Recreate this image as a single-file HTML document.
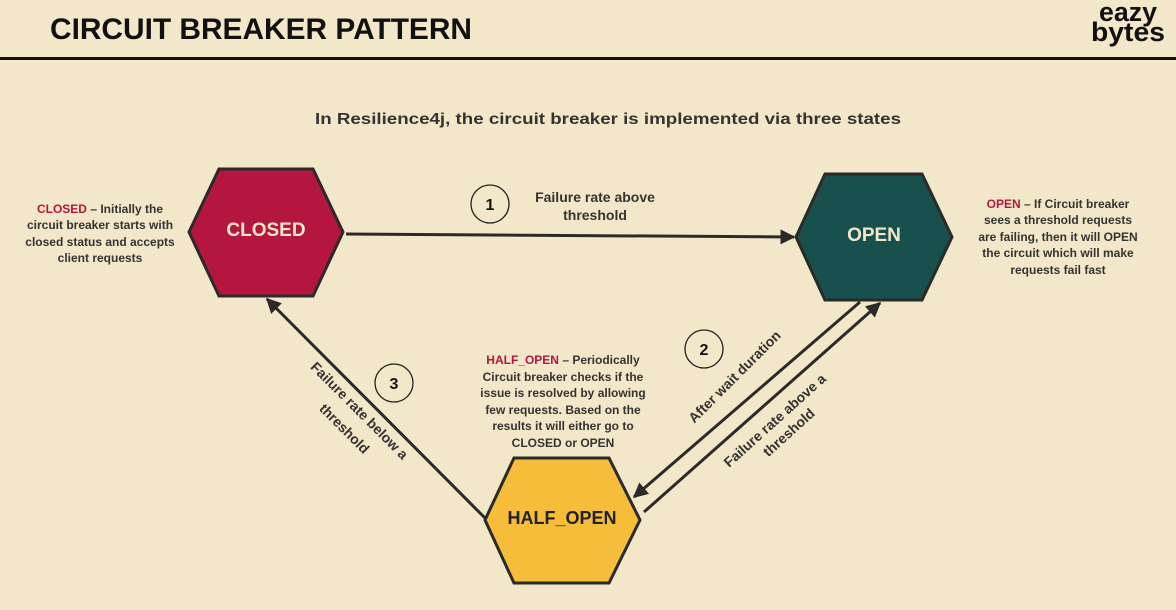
<!DOCTYPE html>
<html><head><meta charset="utf-8"><style>
html,body{margin:0;padding:0;background:#f3e7c9;}
svg{display:block;font-family:"Liberation Sans",sans-serif;}
</style></head><body>
<svg width="1176" height="610" viewBox="0 0 1176 610">
<defs><marker id="ah" viewBox="0 0 10 10" refX="9" refY="5" markerWidth="5" markerHeight="5" orient="auto"><path d="M0,0L10,5L0,10z" fill="#2a2a2a"/></marker></defs>
<rect width="1176" height="610" fill="#f3e7c9"/>
<g>
<text x="50" y="39" font-size="30" font-weight="bold" fill="#111" textLength="422" lengthAdjust="spacingAndGlyphs">CIRCUIT BREAKER PATTERN</text>
<text x="1128" y="21" font-size="27" font-weight="bold" fill="#111" text-anchor="middle" textLength="58" lengthAdjust="spacingAndGlyphs">eazy</text>
<text x="1128" y="41" font-size="27" font-weight="bold" fill="#111" text-anchor="middle" textLength="74" lengthAdjust="spacingAndGlyphs">bytes</text>
<rect x="0" y="57" width="1176" height="3" fill="#111"/>
</g>
<text x="608" y="124" font-size="16" font-weight="bold" fill="#333" text-anchor="middle" textLength="586" lengthAdjust="spacingAndGlyphs">In Resilience4j, the circuit breaker is implemented via three states</text>

<polygon points="189,232 219,169 313,169 343,232 313,296 219,296" fill="#b5163f" stroke="#2a2a2a" stroke-width="3"/>
<text x="266" y="236" font-size="19" font-weight="bold" fill="#f3e7c9" text-anchor="middle">CLOSED</text>
<polygon points="796,237 825,174 922,174 952,237 922,300 825,300" fill="#17504d" stroke="#2a2a2a" stroke-width="3"/>
<text x="874" y="241" font-size="19" font-weight="bold" fill="#f3e7c9" text-anchor="middle">OPEN</text>
<polygon points="485,520 514,458 609,458 640,520 609,583 514,583" fill="#f5bd3a" stroke="#2a2a2a" stroke-width="3"/>
<text x="562" y="524" font-size="18" font-weight="bold" fill="#222" text-anchor="middle">HALF_OPEN</text>

<g stroke="#2a2a2a" stroke-width="3" fill="none" marker-end="url(#ah)">
<line x1="346" y1="234" x2="794" y2="237"/>
<line x1="485" y1="518" x2="267" y2="299"/>
<line x1="860" y1="302" x2="634" y2="497"/>
<line x1="644" y1="512" x2="880" y2="303"/>
</g>

<g fill="none" stroke="#222" stroke-width="1.3">
<circle cx="490" cy="204" r="19"/>
<circle cx="394" cy="383" r="19"/>
<circle cx="704" cy="349" r="19"/>
</g>
<g font-size="16" font-weight="bold" fill="#111" text-anchor="middle">
<text x="490" y="210">1</text>
<text x="394" y="389">3</text>
<text x="704" y="355">2</text>
</g>
<g font-size="14" font-weight="bold" fill="#333" text-anchor="middle">
<text x="595" y="202">Failure rate above</text>
<text x="595" y="220">threshold</text>
</g>
<g font-size="14" font-weight="bold" fill="#333" text-anchor="middle">
<text transform="translate(356,414) rotate(45)">Failure rate below a</text>
<text transform="translate(341,432) rotate(45)">threshold</text>
<text transform="translate(738,380) rotate(-45)">After wait duration</text>
<text transform="translate(778,424) rotate(-42)">Failure rate above a</text>
<text transform="translate(792,436) rotate(-42)">threshold</text>
</g>

<g font-size="12" font-weight="bold" fill="#333" text-anchor="middle">
<text x="100" y="213"><tspan fill="#b5163f">CLOSED</tspan> – Initially the</text>
<text x="100" y="229">circuit breaker starts with</text>
<text x="100" y="246">closed status and accepts</text>
<text x="100" y="262">client requests</text>
</g>
<g font-size="12" font-weight="bold" fill="#333" text-anchor="middle">
<text x="1058" y="208"><tspan fill="#b5163f">OPEN</tspan> – If Circuit breaker</text>
<text x="1058" y="224">sees a threshold requests</text>
<text x="1058" y="241">are failing, then it will OPEN</text>
<text x="1058" y="257">the circuit which will make</text>
<text x="1058" y="274">requests fail fast</text>
</g>
<g font-size="12" font-weight="bold" fill="#333" text-anchor="middle">
<text x="563" y="364"><tspan fill="#b5163f">HALF_OPEN</tspan> – Periodically</text>
<text x="563" y="381">Circuit breaker checks if the</text>
<text x="563" y="397">issue is resolved by allowing</text>
<text x="563" y="414">few requests. Based on the</text>
<text x="563" y="430">results it will either go to</text>
<text x="563" y="447">CLOSED or OPEN</text>
</g>
</svg>
</body></html>
